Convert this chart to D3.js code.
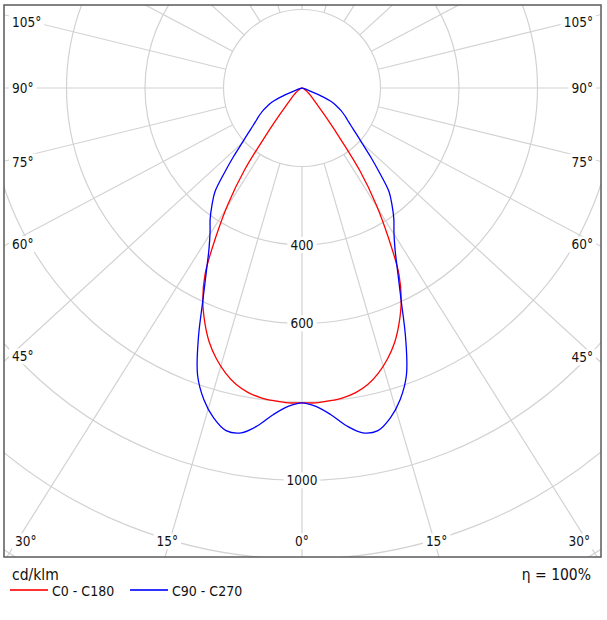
<!DOCTYPE html>
<html>
<head>
<meta charset="utf-8">
<script src="https://cdn.jsdelivr.net/npm/d3@7/dist/d3.min.js"></script>
<style>
  html, body { margin: 0; padding: 0; background: #fff; }
  svg { display: block; }
  text { font-family: "DejaVu Sans Condensed", "Liberation Sans", "DejaVu Sans", sans-serif; fill: #111; }
</style>
</head>
<body>
<svg id="chart" width="607" height="620"></svg>
<script>
// ---------- data ----------
const gammaDeg = [0, 2.5, 5, 7.5, 10, 12.5, 15, 17.5, 20, 22.5, 25, 27.5, 30, 32.5, 35, 37.5, 40, 42.5, 45,
  47.5, 50, 52.5, 55, 57.5, 60, 62.5, 65, 67.5, 70, 72.5, 75, 77.5, 80, 82.5, 85, 87.5, 90];
const c0c180 = [802, 803, 800, 796, 788, 774, 752, 724, 690, 647, 598, 535, 440, 351, 256, 147, 87, 56, 41,
  32, 26, 20, 15, 11, 8, 6, 5, 4, 3, 2, 2, 1, 1, 0, 0, 0, 0];
const c90c270 = [802, 812, 835, 868, 892, 894, 870, 832, 778, 690, 598, 528, 474, 436, 408, 377, 345, 292, 246,
  207, 179, 157, 141, 128, 115, 99, 84, 52, 16, 4, 1, 0, 0, 0, 0, 0, 0];
const seriesNames = ["C0 - C180", "C90 - C270"];
const seriesColors = ["#ff0000", "#0000ff"];
const ringValues = [200, 400, 600, 800, 1000, 1200, 1400];
const ringLabelValues = [400, 600, 1000];
const spokeAngles = [0, 15, 30, 45, 60, 75, 90, 105, 120, 135, 150, 165, 180, 195, 210, 225, 240, 255, 270, 285, 300, 315, 330, 345];
const labelAngles = [0, 15, 30, 45, 60, 75, 90, 105];
const unitLabel = "cd/klm";
const etaLabel = "η = 100%";

// ---------- layout ----------
const svg = d3.select("#chart");
const frame = { x0: 4, y0: 5, x1: 601, y1: 557 };
const cx = 302, cy = 88;
const kx = 1.09; // horizontal stretch of spoke directions as in the reference
const r = d3.scaleLinear().domain([0, 1000]).range([0, 392.5]);
const gridColor = "#d2d2d2";

svg.append("rect").attr("width", 607).attr("height", 620).attr("fill", "#fff");

svg.append("clipPath").attr("id", "clipFrame")
  .append("rect").attr("x", frame.x0).attr("y", frame.y0)
  .attr("width", frame.x1 - frame.x0).attr("height", frame.y1 - frame.y0);

const plot = svg.append("g").attr("clip-path", "url(#clipFrame)");
const grid = plot.append("g");

// rings
grid.selectAll("circle.ring").data(ringValues).join("circle")
  .attr("class", "ring")
  .attr("cx", cx).attr("cy", cy).attr("r", d => r(d))
  .attr("fill", "none").attr("stroke", gridColor).attr("stroke-width", 1.2);

// spokes
function dir(thetaDeg) {
  const t = thetaDeg * Math.PI / 180;
  const dx = kx * Math.sin(t), dy = Math.cos(t);
  const n = Math.hypot(dx, dy);
  return [dx / n, dy / n];
}
grid.selectAll("line.spoke").data(spokeAngles).join("line")
  .attr("class", "spoke")
  .attr("x1", d => cx + dir(d)[0] * r(200))
  .attr("y1", d => cy + dir(d)[1] * r(200))
  .attr("x2", d => cx + dir(d)[0] * r(2000))
  .attr("y2", d => cy + dir(d)[1] * r(2000))
  .attr("stroke", gridColor).attr("stroke-width", 1.2);

// curves
const radial = d3.lineRadial()
  .angle(d => d.a)
  .radius(d => r(d.v))
  .curve(d3.curveCatmullRom);

function polarPoints(values) {
  const pts = [];
  for (let i = gammaDeg.length - 1; i >= 0; i--) {
    pts.push({ a: Math.PI - gammaDeg[i] * Math.PI / 180, v: values[i] });
  }
  for (let i = 1; i < gammaDeg.length; i++) {
    pts.push({ a: Math.PI + gammaDeg[i] * Math.PI / 180, v: values[i] });
  }
  return pts;
}

const curves = plot.append("g").attr("transform", `translate(${cx},${cy})`);
[c0c180, c90c270].forEach((vals, i) => {
  curves.append("path")
    .attr("d", radial(polarPoints(vals)))
    .attr("fill", "none")
    .attr("stroke", seriesColors[i])
    .attr("stroke-width", 1.3)
    .attr("stroke-linejoin", "round");
});

// labels with white background
const labels = svg.append("g");
function bgLabel(x, y, txt, anchor, size) {
  const g = labels.append("g");
  const rect = g.append("rect").attr("fill", "#fff");
  const t = g.append("text")
    .attr("x", x).attr("y", y).attr("dy", "0.36em")
    .attr("text-anchor", anchor)
    .style("font-size", size + "px")
    .text(txt);
  const bb = t.node().getBBox();
  rect.attr("x", bb.x - 3).attr("y", bb.y).attr("width", bb.width + 6).attr("height", bb.height);
  return { g, t, bb };
}

// ring labels
ringLabelValues.forEach(v => bgLabel(cx, cy + r(v), String(v), "middle", 13.5));

// angle labels
const inset = 8, bottomY = frame.y1 - inset;
labelAngles.forEach(gDeg => {
  const sides = gDeg === 0 ? [1] : [-1, 1];
  sides.forEach(side => {
    const gr = gDeg * Math.PI / 180;
    const dx = side * kx * Math.sin(gr), dy = Math.cos(gr);
    let bottomX = null;
    if (dy > 1e-6) {
      const t = (bottomY - cy) / dy;
      const x = cx + dx * t;
      if (x >= frame.x0 && x <= frame.x1) bottomX = x;
    }
    const txt = gDeg + "°";
    if (bottomX !== null) {
      const lab = bgLabel(bottomX, bottomY - 7.5, txt, "middle", 13.5);
      const w = lab.bb.width;
      const minX = frame.x0 + 11 + w / 2, maxX = frame.x1 - 11 - w / 2;
      const nx = Math.max(minX, Math.min(maxX, bottomX));
      if (nx !== bottomX) {
        lab.g.attr("transform", `translate(${nx - bottomX},0)`);
      }
    } else {
      const xEdge = side < 0 ? frame.x0 + inset : frame.x1 - inset;
      const t = Math.abs(xEdge - cx) / Math.abs(dx);
      let y = cy + dy * t;
      if (dy > 1e-6) y += 2.5;
      y = Math.max(frame.y0 + 17, y);
      bgLabel(xEdge, y, txt, side < 0 ? "start" : "end", 13.5);
    }
  });
});

// frame
svg.append("rect")
  .attr("x", frame.x0).attr("y", frame.y0)
  .attr("width", frame.x1 - frame.x0).attr("height", frame.y1 - frame.y0)
  .attr("fill", "none").attr("stroke", "#5a5a5a").attr("stroke-width", 1.5);

// footer
svg.append("text").attr("x", 12).attr("y", 580).style("font-size", "15.5px").text(unitLabel);
svg.append("text").attr("x", 591).attr("y", 580).attr("text-anchor", "end").style("font-size", "15.5px").text(etaLabel);

const legendX = [10, 130];
seriesNames.forEach((name, i) => {
  svg.append("line")
    .attr("x1", legendX[i]).attr("x2", legendX[i] + 38)
    .attr("y1", 590).attr("y2", 590)
    .attr("stroke", seriesColors[i]).attr("stroke-width", 2.2).attr("opacity", 0.8);
  svg.append("text")
    .attr("x", legendX[i] + 42).attr("y", 591).attr("dy", "0.36em")
    .style("font-size", "14px").text(name);
});
</script>
</body>
</html>
